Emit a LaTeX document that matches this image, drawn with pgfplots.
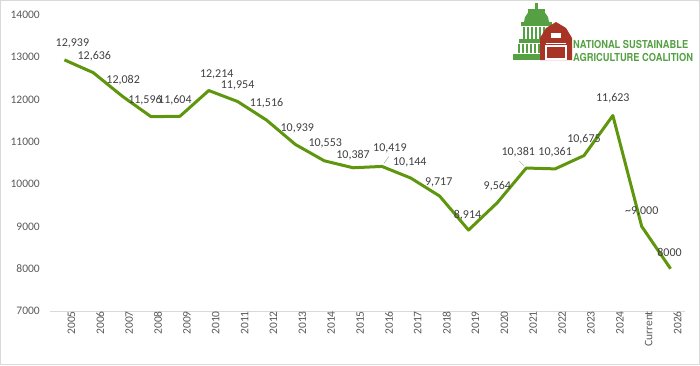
\documentclass[border=0pt]{standalone}
\usepackage{pgfplots}
\pgfplotsset{compat=1.18}
\usepackage{fontspec}
\setmainfont{Carlito}
\newfontfamily\logofont{TeX Gyre Heros}
\definecolor{linecol}{RGB}{94,150,14}
\definecolor{labcol}{RGB}{64,64,64}
\definecolor{tickcol}{RGB}{89,89,89}
\definecolor{gridcol}{RGB}{217,217,217}
\definecolor{logogreen}{RGB}{84,160,66}
\definecolor{barnred}{RGB}{168,52,38}
\tikzset{dl/.style={font=\fontsize{12}{14}\selectfont, text=labcol, inner sep=0pt}}
\begin{document}
\begin{tikzpicture}[x=1pt,y=1pt]
\useasboundingbox (0,0) rectangle (700,365);
\draw[gridcol,line width=0.8pt] (0.4,0.4) rectangle (699.6,364.6);
\begin{axis}[
  at={(50pt,54pt)}, anchor=south west,
  scale only axis, width=635pt, height=296pt,
  xmin=-0.5, xmax=21.5, ymin=7000, ymax=14000,
  xtick={0,...,21},
  xticklabels={2005,2006,2007,2008,2009,2010,2011,2012,2013,2014,2015,2016,2017,2018,2019,2020,2021,2022,2023,2024,Current,2026},
  ytick={7000,8000,...,14000},
  scaled y ticks=false,
  /pgf/number format/assume math mode=true,
  /pgf/number format/1000 sep={},
  separate axis lines,
  axis x line*=bottom, axis y line*=left,
  x axis line style={draw=gridcol, line width=0.8pt, -},
  y axis line style={draw=none},
  major tick length=0pt,
  tick style={draw=none},
  clip=false,
  yticklabel style={font=\fontsize{11.5}{13}\selectfont, text=tickcol, anchor=east, inner sep=0pt, xshift=-10pt},
  xticklabel style={font=\fontsize{11.5}{13}\selectfont, text=tickcol, rotate=90, anchor=east, inner sep=0pt, yshift=-7pt},
]
\addplot[color=linecol, line width=3pt, line join=round, mark=none] coordinates {
 (0,12939) (1,12636) (2,12082) (3,11596) (4,11604) (5,12214) (6,11954) (7,11516)
 (8,10939) (9,10553) (10,10387) (11,10419) (12,10144) (13,9717) (14,8914) (15,9564)
 (16,10381) (17,10361) (18,10675) (19,11623) (20,9000) (21,8000)
};
\draw[gray!60, line width=0.6pt] (axis cs:11,10419) ++(2pt,3pt) -- ++(5pt,7pt);
\draw[gray!60, line width=0.6pt] (axis cs:16,10381) ++(-2pt,2pt) -- ++(-5pt,5pt);
\node[dl] at (axis cs:0,12939) [xshift=8pt,yshift=16pt] {12,939};
\node[dl] at (axis cs:1,12636) [xshift=1pt,yshift=16pt] {12,636};
\node[dl] at (axis cs:2,12082) [xshift=1pt,yshift=16pt] {12,082};
\node[dl] at (axis cs:3,11596) [xshift=-6pt,yshift=16pt] {11,596};
\node[dl] at (axis cs:4,11604) [xshift=-5pt,yshift=16pt] {11,604};
\node[dl] at (axis cs:5,12214) [xshift=8pt,yshift=16pt] {12,214};
\node[dl] at (axis cs:6,11954) [xshift=0pt,yshift=16pt] {11,954};
\node[dl] at (axis cs:7,11516) [xshift=0pt,yshift=17pt] {11,516};
\node[dl] at (axis cs:8,10939) [xshift=2pt,yshift=16pt] {10,939};
\node[dl] at (axis cs:9,10553) [xshift=1pt,yshift=17pt] {10,553};
\node[dl] at (axis cs:10,10387) [xshift=0pt,yshift=13pt] {10,387};
\node[dl] at (axis cs:11,10419) [xshift=8pt,yshift=18pt] {10,419};
\node[dl] at (axis cs:12,10144) [xshift=-1pt,yshift=16pt] {10,144};
\node[dl] at (axis cs:13,9717) [xshift=-1pt,yshift=14pt] {9,717};
\node[dl] at (axis cs:14,8914) [xshift=-1pt,yshift=15pt] {8,914};
\node[dl] at (axis cs:15,9564) [xshift=0pt,yshift=16pt] {9,564};
\node[dl] at (axis cs:16,10381) [xshift=-8pt,yshift=16pt] {10,381};
\node[dl] at (axis cs:17,10361) [xshift=0pt,yshift=17pt] {10,361};
\node[dl] at (axis cs:18,10675) [xshift=0pt,yshift=16pt] {10,675};
\node[dl] at (axis cs:19,11623) [xshift=0pt,yshift=17pt] {11,623};
\node[dl] at (axis cs:20,9000) [xshift=0pt,yshift=15pt] {\textasciitilde 9,000};
\node[dl] at (axis cs:21,8000) [xshift=-1pt,yshift=16pt] {8000};
\end{axis}
% logo: capitol dome
\begin{scope}[logogreen]
\fill (535,355) rectangle (538,362);
\fill (528,346) rectangle (545,356);
\fill (524,343) arc (180:0:12.5) -- cycle;
\fill (521,339) rectangle (552,343);
\foreach \cx in {523,527,531,535,539,543} { \fill (\cx,326) rectangle (\cx+2,338); }
\fill (519,322) rectangle (552,326);
\foreach \cx in {518,522,526,530,534,538} { \fill (\cx,312) rectangle (\cx+2,321); }
\fill (513,305) rectangle (545,311);
\end{scope}
% barn
\fill[barnred] (540,305) -- (540,327) -- (546,337) -- (556,343) -- (566,337) -- (572,327) -- (572,305) -- cycle;
\draw[white, line width=1.2pt] (546,306) rectangle (566,319);
\draw[white, line width=1.2pt] (546,321.5) -- (566,321.5);
\fill[white] (551,327) rectangle (561,332);
\node[anchor=west, inner sep=0pt, text=logogreen, font=\logofont\bfseries\fontsize{11}{12}\selectfont] at (573,320.5) {\scalebox{0.845}[1]{NATIONAL SUSTAINABLE}};
\node[anchor=west, inner sep=0pt, text=logogreen, font=\logofont\bfseries\fontsize{11}{12}\selectfont] at (573,308) {\scalebox{0.845}[1]{AGRICULTURE COALITION}};
\end{tikzpicture}
\end{document}
